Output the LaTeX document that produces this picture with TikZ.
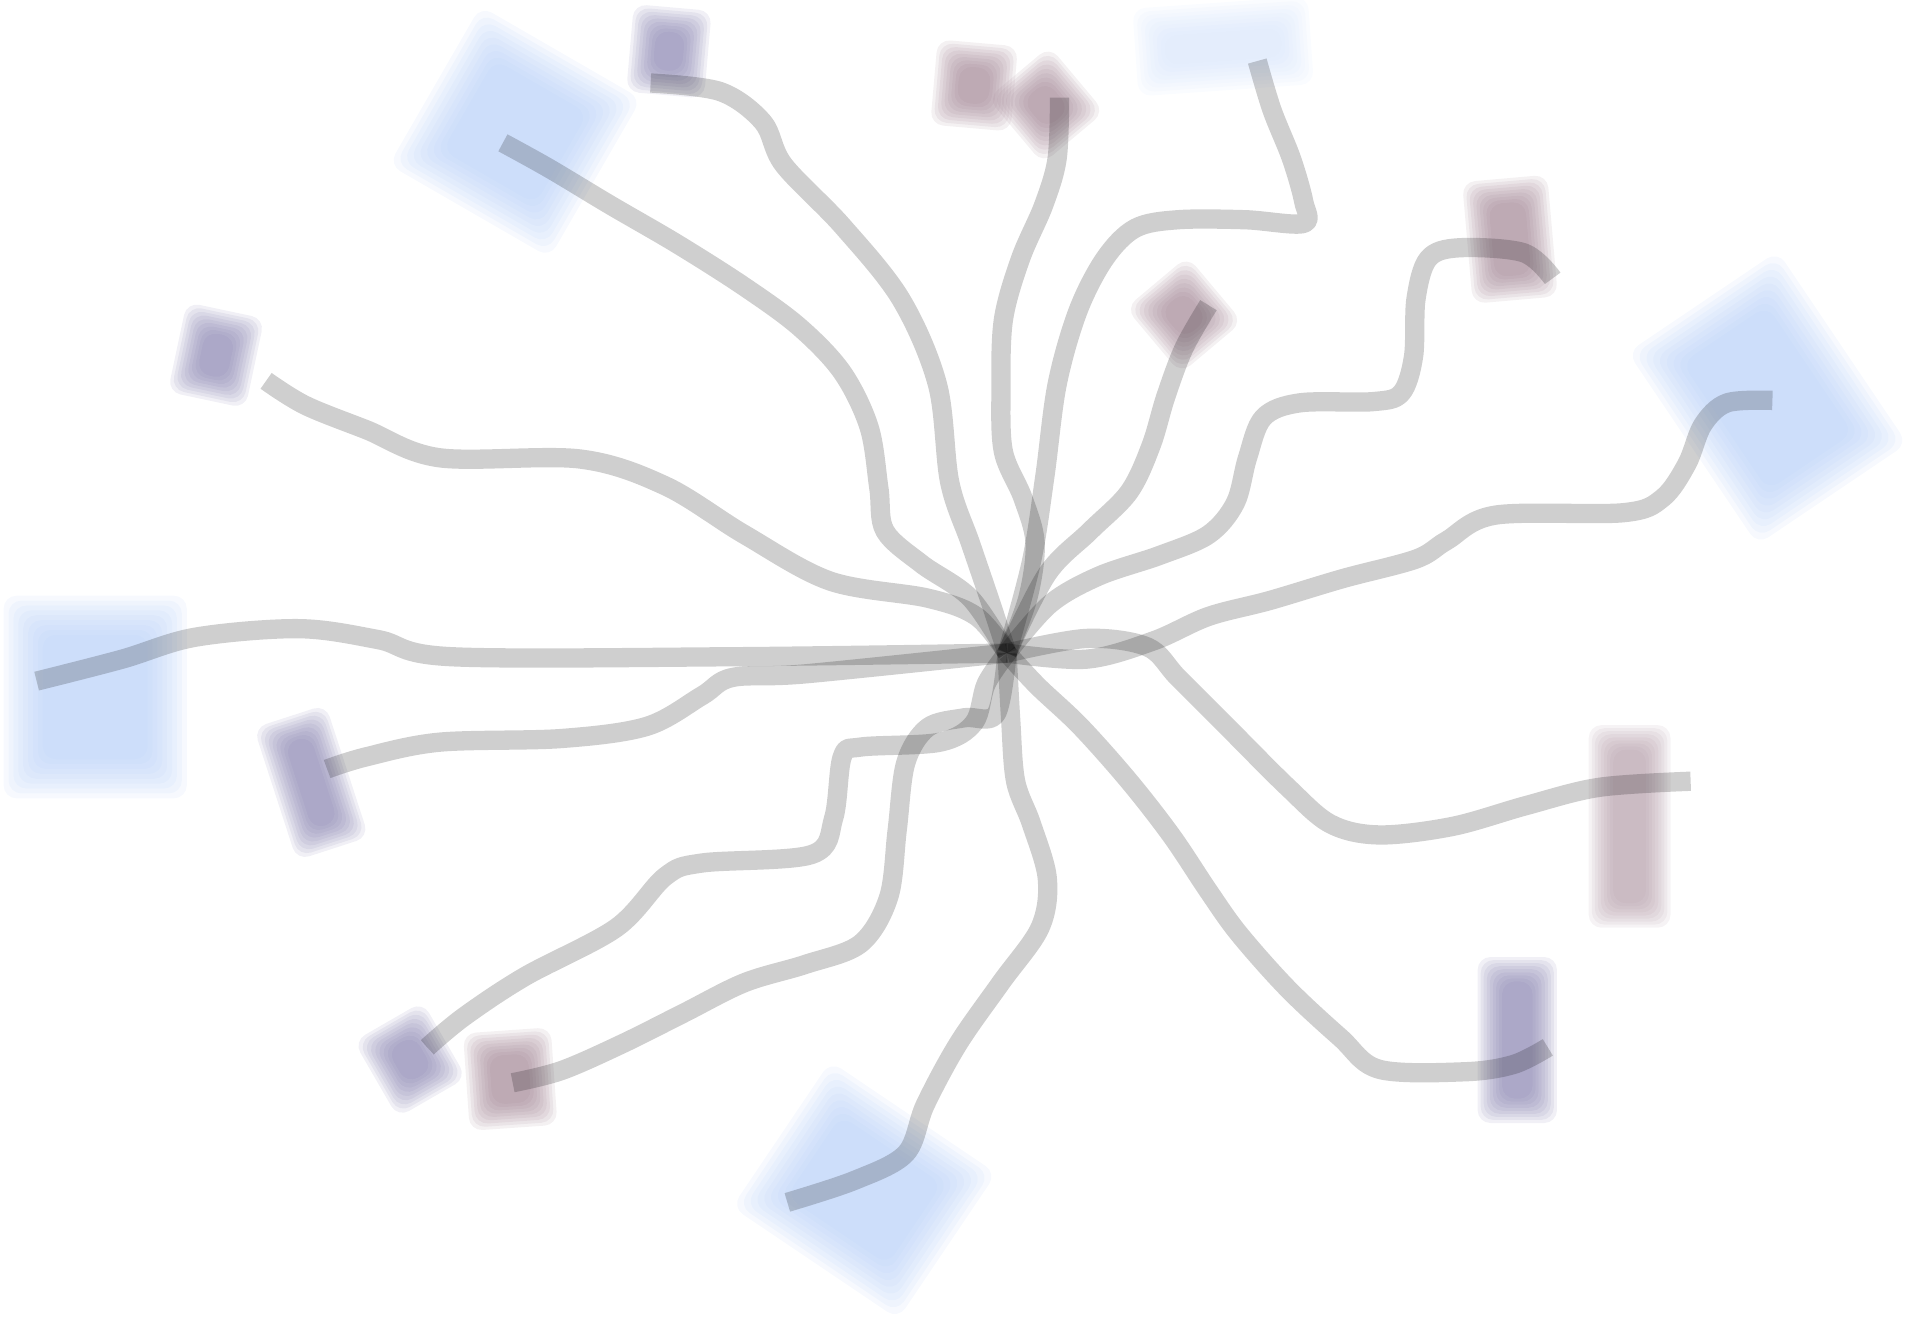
\documentclass[tikz,border=0pt]{standalone}
\definecolor{bluebox}{RGB}{178,204,247}
\definecolor{purplebox}{RGB}{127,121,170}
\definecolor{mauvebox}{RGB}{155,124,140}
\tikzset{
  ribbon/.style={draw=black, opacity=0.19, line width=9pt, line cap=butt, line join=round},
}
% name, center, width, height, angle, colour, blur step
\newcommand\softbox[7]{%
  \begin{scope}[shift={(#2)}, rotate=#5]
    \foreach \k in {-4,...,4}{
      \pgfmathsetmacro\e{\k*#7}
      \fill[#6, opacity=0.11, rounded corners=6pt] ({-#3/2-\e},{-#4/2-\e}) rectangle ({#3/2+\e},{#4/2+\e});
    }
    \node[inner sep=0pt, minimum size=0pt] (#1) at (0,0) {};
  \end{scope}}
\begin{document}
\begin{tikzpicture}[x=0.02cm, y=-0.02cm]
\useasboundingbox (0,0) rectangle (1568,1096);
% boxes
\softbox{blueTL}{422,108}{120}{118}{-30}{bluebox}{4}
\softbox{purpleTop}{548,42}{44}{52}{-5}{purplebox}{2.5}
\softbox{mauveA}{798,70}{46}{50}{-5}{mauvebox}{2.5}
\softbox{mauveB}{857,86}{46}{50}{40}{mauvebox}{2.5}
\softbox{blueTop}{1002,38}{120}{48}{4}{bluebox!55}{3}
\softbox{mauveL}{970,258}{46}{50}{40}{mauvebox}{2.5}
\softbox{mauveK}{1237,196}{50}{80}{5}{mauvebox}{2.5}
\softbox{blueR}{1448,326}{116}{158}{34}{bluebox}{4}
\softbox{mauveI}{1335,677}{47}{146}{0}{mauvebox!80}{2.5}
\softbox{purpleH}{1243,852}{45}{116}{0}{purplebox}{2.5}
\softbox{blueBot}{708,975}{132}{112}{-34}{bluebox}{4}
\softbox{mauveF}{418,884}{52}{60}{4}{mauvebox}{2.5}
\softbox{purpleE}{336,868}{45}{52}{30}{purplebox}{2.5}
\softbox{purpleD}{255,641}{42}{94}{18}{purplebox}{2.5}
\softbox{purpleB}{177,291}{45}{55}{-12}{purplebox}{2.5}
\softbox{blueC}{78,571}{118}{134}{0}{bluebox}{4}
% hub and ribbon ends
\node[inner sep=0pt, minimum size=0pt] (hub) at (825,535) {};
\coordinate (eA) at (412,117);
\coordinate (eP) at (533,68);
\coordinate (eB) at (218,312);
\coordinate (eC) at (30,558);
\coordinate (eD) at (268,630);
\coordinate (eE) at (350,858);
\coordinate (eF) at (420,887);
\coordinate (eG) at (645,985);
\coordinate (eH) at (1268,858);
\coordinate (eI) at (1385,640);
\coordinate (eJ) at (1452,328);
\coordinate (eK) at (1272,228);
\coordinate (eL) at (990,250);
\coordinate (eM) at (1030,50);
\coordinate (eN) at (868,80);
% ribbons
\draw[ribbon] plot[smooth, tension=0.55] coordinates {(eA) (450,138) (500,168) (555,200) (610,235) (655,268) (690,305) (712,350) (720,400) (725,435) (755,462) (795,490) (hub)};
\draw[ribbon] plot[smooth, tension=0.55] coordinates {(eP) (590,75) (625,100) (642,135) (690,185) (738,245) (768,315) (778,395) (795,445) (812,495) (hub)};
\draw[ribbon] plot[smooth, tension=0.55] coordinates {(eB) (250,332) (300,352) (360,375) (475,376) (545,398) (610,438) (680,476) (760,490) (800,505) (hub)};
\draw[ribbon] plot[smooth, tension=0.55] coordinates {(eC) (100,540) (160,522) (245,515) (310,524) (370,538) (600,538) (hub)};
\draw[ribbon] plot[smooth, tension=0.55] coordinates {(eD) (300,620) (360,608) (460,605) (530,595) (575,570) (600,555) (660,552) (hub)};
\draw[ribbon] plot[smooth, tension=0.55] coordinates {(eE) (380,833) (430,800) (505,760) (545,718) (575,707) (665,700) (683,670) (690,620) (705,612) (770,608) (798,592) (808,560) (hub)};
\draw[ribbon] plot[smooth, tension=0.55] coordinates {(eF) (460,877) (510,855) (560,830) (610,805) (660,790) (705,773) (728,735) (735,680) (742,625) (760,596) (790,588) (816,585) (hub)};
\draw[ribbon] plot[smooth, tension=0.55] coordinates {(eG) (700,967) (742,945) (758,905) (785,855) (820,805) (852,760) (858,720) (845,675) (832,640) (828,590) (hub)};
\draw[ribbon] plot[smooth, tension=0.55] coordinates {(eH) (1240,872) (1200,878) (1130,876) (1098,850) (1055,810) (1015,765) (990,730) (960,685) (925,640) (885,595) (850,562) (hub)};
\draw[ribbon] plot[smooth, tension=0.55] coordinates {(eI) (1310,645) (1250,660) (1190,677) (1130,684) (1090,675) (1055,645) (1005,595) (965,555) (940,530) (890,523) (hub)};
\draw[ribbon] plot[smooth, tension=0.55] coordinates {(eJ) (1415,330) (1395,348) (1382,380) (1362,408) (1330,420) (1225,422) (1185,443) (1160,458) (1100,474) (1040,492) (990,505) (945,525) (890,540) (hub)};
\draw[ribbon] plot[smooth, tension=0.55] coordinates {(eK) (1248,207) (1195,203) (1170,212) (1160,245) (1158,292) (1148,322) (1125,329) (1065,330) (1035,342) (1022,375) (1012,412) (990,438) (950,455) (900,472) (860,495) (hub)};
\draw[ribbon] plot[smooth, tension=0.55] coordinates {(eL) (970,285) (955,325) (943,365) (925,403) (893,435) (858,470) (hub)};
\draw[ribbon] plot[smooth, tension=0.55] coordinates {(eM) (1042,90) (1058,130) (1068,165) (1068,183) (1020,180) (965,180) (930,187) (905,212) (883,255) (866,315) (856,390) (845,460) (hub)};
\draw[ribbon] plot[smooth, tension=0.55] coordinates {(eN) (866,130) (855,168) (836,212) (822,262) (820,320) (822,370) (838,408) (848,445) (842,490) (hub)};
\end{tikzpicture}
\end{document}
